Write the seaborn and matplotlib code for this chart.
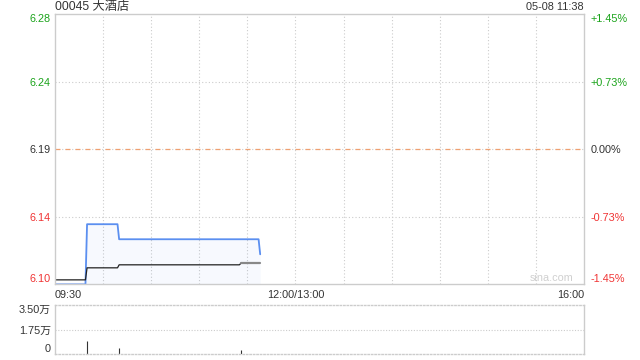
import matplotlib
matplotlib.use("Agg")
import matplotlib.pyplot as plt
import seaborn as sns
import pandas as pd
import numpy as np

# Intraday data, minutes since 09:30 (lunch break removed)
price_minutes = [0, 19, 20, 39, 40, 127, 128]
price_values = [6.10, 6.10, 6.14, 6.14, 6.13, 6.13, 6.12]
avg_minutes = [0, 19, 20, 39, 40, 115, 116, 128]
avg_values = [6.103, 6.103, 6.111, 6.111, 6.113, 6.113, 6.114, 6.114]
vol_minutes = [20, 40, 116]
vol_values = [9300, 4500, 2600]

prev_close = 6.19
max_pct = 1.45
left_labels = ["6.28", "6.24", "6.19", "6.14", "6.10"]
right_labels = ["+1.45%", "+0.73%", "0.00%", "-0.73%", "-1.45%"]
vol_labels = ["0", "1.75万", "3.50万"]
x_labels = ["09:30", "12:00/13:00", "16:00"]
title = "00045 大酒店"
stamp = "05-08 11:38"

GREEN = "#1aa31a"
RED = "#f03333"
DARK = "#333333"
GRID = "#cccccc"
FS = 7.8

sns.set_theme(style="white")
plt.rcParams["font.family"] = ["Liberation Sans", "Noto Sans CJK SC", "DejaVu Sans"]
plt.rcParams["font.size"] = FS

fig = plt.figure(figsize=(6.4, 3.6), dpi=100)
ax = fig.add_axes([55 / 640, 1 - 284 / 360, 529 / 640, 270 / 360])
axv = fig.add_axes([55 / 640, 1 - 354 / 360, 529 / 640, 49 / 360])

ymin = prev_close * (1 - max_pct / 100)
ymax = prev_close * (1 + max_pct / 100)
yticks = np.linspace(ymax, ymin, 5)

# price panel
price_df = pd.DataFrame({"minute": price_minutes, "price": price_values})
avg_df = pd.DataFrame({"minute": avg_minutes, "avg": avg_values})

for xv in range(30, 330, 30):
    ax.axvline(xv, color=GRID, lw=0.8, ls=(0, (1, 2)), zorder=0)
for yv in [yticks[1], yticks[3]]:
    ax.axhline(yv, color=GRID, lw=0.8, ls=(0, (1, 2)), zorder=0)
ax.axhline(prev_close, color=GRID, lw=0.8, ls=(0, (1, 2)), zorder=0)
ax.axhline(prev_close, color="#f0a070", lw=0.9, ls=(0, (4, 4)), zorder=1)

ax.fill_between(price_minutes, price_values, ymin, color="#3a7bf0", alpha=0.04, lw=0)
sns.lineplot(data=price_df, x="minute", y="price", ax=ax, color="#5b8ff0", lw=1.3)
sns.lineplot(data=avg_df.iloc[:-1], x="minute", y="avg", ax=ax, color="#222222", lw=0.9)
sns.lineplot(data=avg_df.iloc[-2:], x="minute", y="avg", ax=ax, color="#888888", lw=1.6)

ax.set_xlim(0, 330)
ax.set_ylim(ymin, ymax)
ax.set_xlabel("")
ax.set_ylabel("")
ax.set_xticks([0, 150, 330])
ax.set_xticklabels(x_labels, color=DARK, fontsize=FS)
for lab, ha in zip(ax.get_xticklabels(), ["left", "center", "right"]):
    lab.set_ha(ha)
ax.tick_params(axis="x", length=0, pad=4)
ax.set_yticks(yticks)
ax.set_yticklabels(left_labels, fontsize=FS)
ax.tick_params(axis="y", length=0, pad=3)
colors = [GREEN, GREEN, DARK, RED, RED]
for lab, c in zip(ax.get_yticklabels(), colors):
    lab.set_color(c)
ax.get_yticklabels()[0].set_va("top")
ax.get_yticklabels()[-1].set_va("bottom")
for s in ax.spines.values():
    s.set_color(GRID)
    s.set_linewidth(1)

axr = ax.twinx()
axr.set_ylim(ymin, ymax)
axr.set_yticks(yticks)
axr.set_yticklabels(right_labels, fontsize=FS)
axr.tick_params(axis="y", length=0, pad=5)
for lab, c in zip(axr.get_yticklabels(), colors):
    lab.set_color(c)
axr.get_yticklabels()[0].set_va("top")
axr.get_yticklabels()[-1].set_va("bottom")
for s in axr.spines.values():
    s.set_visible(False)

ax.text(0.98, 0.003, "sina.com", transform=ax.transAxes, ha="right", va="bottom",
        color="#d0d0d0", fontsize=FS)

# volume panel
axv.vlines(vol_minutes, 0, vol_values, color="#333333", lw=0.8)
axv.axhline(17500, color=GRID, lw=0.8, ls=(0, (1, 1.5)))
axv.set_xlim(0, 330)
axv.set_ylim(0, 35000)
axv.set_xticks([])
axv.set_yticks([0, 17500, 35000])
axv.set_yticklabels(vol_labels, color=DARK, fontsize=FS)
axv.tick_params(axis="y", length=0, pad=3)
axv.get_yticklabels()[0].set_va("bottom")
axv.get_yticklabels()[-1].set_va("top")
for name, s in axv.spines.items():
    s.set_color(GRID)
    s.set_linewidth(1)
    if name in ("top", "bottom"):
        s.set_linestyle((0, (1, 1.5)))

fig.text(55 / 640, 1 - 7 / 360, title, ha="left", va="center", color=DARK, fontsize=8.8)
fig.text(584 / 640, 1 - 7 / 360, stamp, ha="right", va="center", color=DARK, fontsize=FS)

fig.savefig("out.png", dpi=100)
